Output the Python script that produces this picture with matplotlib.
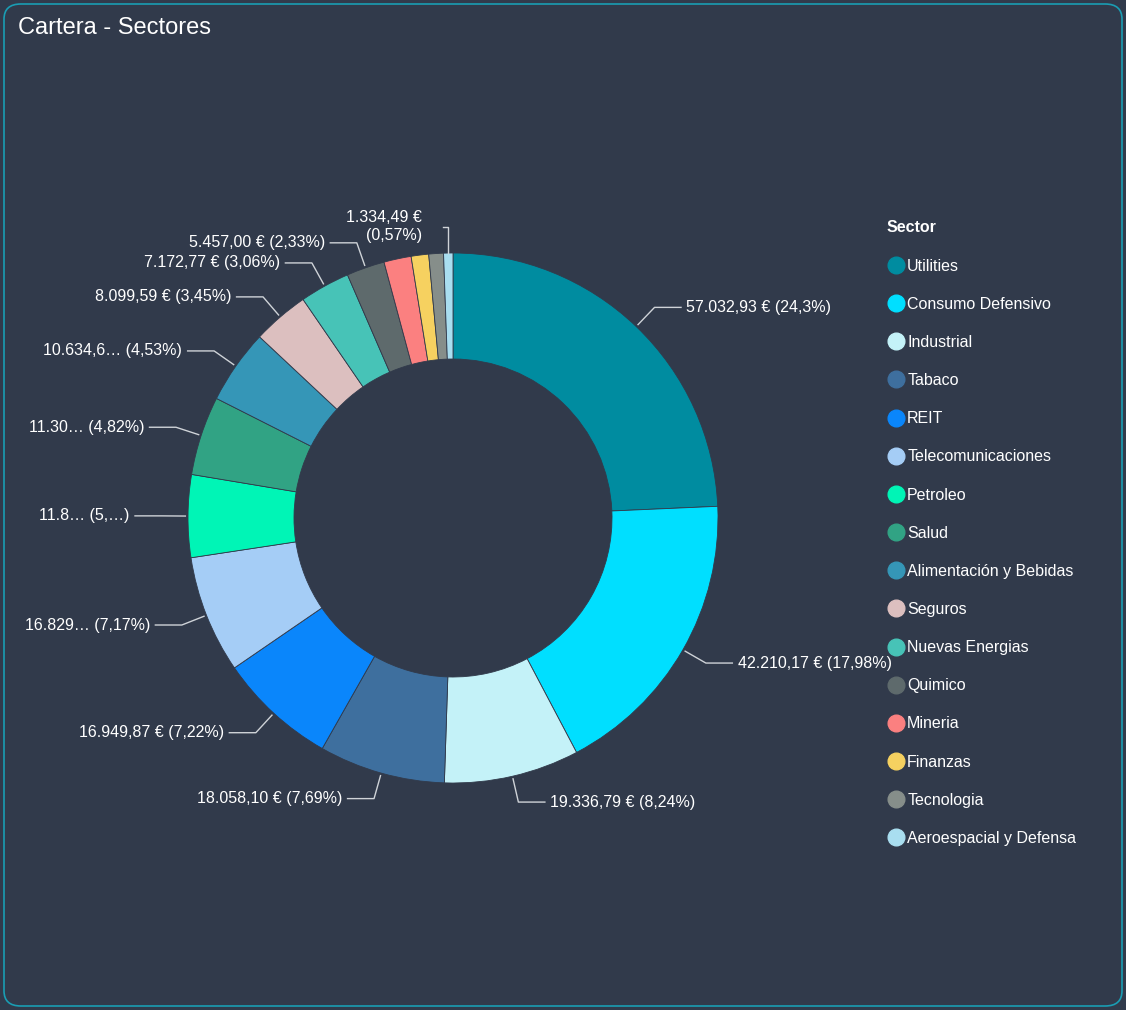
import matplotlib
matplotlib.use("Agg")
import matplotlib.pyplot as plt
import numpy as np
from matplotlib.patches import FancyBboxPatch
from matplotlib.lines import Line2D

plt.rcParams['font.family'] = ['Liberation Sans', 'DejaVu Sans']

sectors = ["Utilities","Consumo Defensivo","Industrial","Tabaco","REIT","Telecomunicaciones",
           "Petroleo","Salud","Alimentación y Bebidas","Seguros","Nuevas Energias","Quimico",
           "Mineria","Finanzas","Tecnologia","Aeroespacial y Defensa"]
values = [57032.93,42210.17,19336.79,18058.10,16949.87,16829.0,11800.0,11310.0,10634.6,
          8099.59,7172.77,5457.00,3900.0,2500.0,2100.0,1334.49]
labels = ["57.032,93 € (24,3%)","42.210,17 € (17,98%)","19.336,79 € (8,24%)","18.058,10 € (7,69%)",
          "16.949,87 € (7,22%)","16.829… (7,17%)","11.8… (5,…)","11.30… (4,82%)","10.634,6… (4,53%)",
          "8.099,59 € (3,45%)","7.172,77 € (3,06%)","5.457,00 € (2,33%)",None,None,None,"1.334,49 €\n(0,57%)"]
colors = ["#008ca0","#00dfff","#c4f2f8","#3e6f9e","#0a86fb","#a5cdf6","#00f5b6","#31a384",
          "#3596b7","#dcbfbf","#47c3b7","#5e6a6c","#fb8080","#f6d160","#868e8a","#a9def0"]

bg = "#313a4b"
fig = plt.figure(figsize=(11.26,10.10), dpi=100, facecolor=bg)
fig.patches.append(FancyBboxPatch((4/1126,4/1010),1118/1126,1002/1010,
    boxstyle="round,pad=0,rounding_size=0.015", transform=fig.transFigure,
    facecolor=bg, edgecolor="#1a9db3", linewidth=1.2, zorder=-10))
fig.text(18/1126, 1-28/1010, "Cartera - Sectores", color="white", fontsize=17, va="center")

ax = fig.add_axes([(453-265)/1126,(492-265)/1010,530/1126,530/1010])
ax.patch.set_alpha(0)
wedges,_ = ax.pie(values, colors=colors, startangle=90, counterclock=False,
                  wedgeprops=dict(width=0.4, edgecolor=bg, linewidth=0.6))
ax.set_xlim(-1,1); ax.set_ylim(-1,1); ax.set_aspect("equal"); ax.axis("off")

for w,lab in zip(wedges,labels):
    if lab is None: continue
    ang = np.deg2rad((w.theta1+w.theta2)/2)
    x,y = np.cos(ang), np.sin(ang)
    x1,y1 = 1.1*x, 1.1*y
    s = 1 if x>=0 else -1
    if lab.startswith("1.334"):
        x1,y1 = x*1.0, 1.1
        ax.plot([x*1.0,x1,x1-0.02],[y*1.0,y1,y1],color="#cfd3d8",lw=1,clip_on=False)
        ax.text(x1-0.1,y1,lab,color="white",fontsize=11.5,ha="right",va="center",clip_on=False,linespacing=1.3)
        continue
    x2 = x1 + s*0.1
    ax.plot([x*1.01,x1,x2],[y*1.01,y1,y1],color="#cfd3d8",lw=1,clip_on=False)
    ax.text(x2+s*0.02,y1,lab,color="white",fontsize=11.5,ha="left" if s>0 else "right",
            va="center",clip_on=False)

handles=[Line2D([],[],marker="o",ls="",markersize=12,markerfacecolor=c,markeredgecolor=c) for c in colors]
leg = fig.legend(handles,sectors,loc="upper left",bbox_to_anchor=(880/1126,1-214/1010),
                 frameon=False,title="Sector",labelcolor="white",fontsize=11.5,
                 handletextpad=0.1,labelspacing=1.45,borderaxespad=0,handlelength=1.2,alignment="left")
leg.get_title().set_color("white"); leg.get_title().set_fontweight("bold"); leg.get_title().set_fontsize(11.5)
fig.savefig("out.png", dpi=100, facecolor=bg)
